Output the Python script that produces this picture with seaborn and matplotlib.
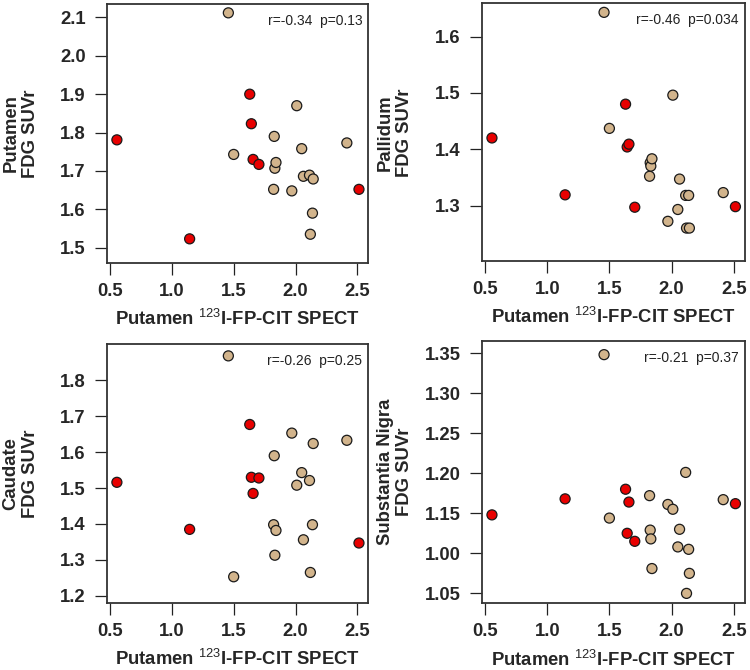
"""
FDG SUVr vs putamen 123I-FP-CIT SPECT, four regions (2x2 scatter panels).
"""
import numpy as np
import pandas as pd
import matplotlib
matplotlib.use("Agg")
import matplotlib.pyplot as plt
import seaborn as sns

sns.set_style("white")
plt.rcParams.update({
    'font.family': ['Liberation Sans', 'DejaVu Sans'],
    'font.size': 13.3,
    'mathtext.fontset': 'custom',
    'mathtext.rm': 'Liberation Sans',
    'mathtext.default': 'rm',
})

# ── Data ──
# red group
X_RED = [0.556, 1.144, 1.630, 1.643, 1.657, 1.704, 2.513]
# tan group
X_TAN = [1.457, 1.500, 1.823, 1.828, 1.833, 1.842, 1.970, 2.010,
         2.050, 2.064, 2.113, 2.120, 2.137, 2.143, 2.415]

PUT_RED = [1.781, 1.523, 1.900, 1.823, 1.730, 1.717, 1.652]
PUT_TAN = [2.112, 1.743, 1.652, 1.790, 1.707, 1.722, 1.648, 1.870,
           1.758, 1.686, 1.689, 1.535, 1.590, 1.679, 1.773]

PAL_RED = [1.420, 1.319, 1.480, 1.404, 1.409, 1.297, 1.298]
PAL_TAN = [1.643, 1.437, 1.352, 1.376, 1.370, 1.383, 1.272, 1.496,
           1.293, 1.347, 1.318, 1.260, 1.318, 1.260, 1.323]

CAU_RED = [1.516, 1.385, 1.677, 1.530, 1.485, 1.528, 1.347]
CAU_TAN = [1.868, 1.253, 1.398, 1.590, 1.313, 1.382, 1.653, 1.508,
           1.543, 1.356, 1.521, 1.265, 1.398, 1.624, 1.633]

SN_RED = [1.148, 1.168, 1.180, 1.125, 1.164, 1.115, 1.162]
SN_TAN = [1.348, 1.144, 1.172, 1.129, 1.118, 1.081, 1.161, 1.155,
          1.108, 1.130, 1.201, 1.050, 1.105, 1.075, 1.167]

REGIONS = ['Putamen', 'Pallidum', 'Caudate', 'Substantia Nigra']
STATS = ['r=-0.34  p=0.13', 'r=-0.46  p=0.034', 'r=-0.26  p=0.25', 'r=-0.21  p=0.37']
Y_RED = [PUT_RED, PAL_RED, CAU_RED, SN_RED]
Y_TAN = [PUT_TAN, PAL_TAN, CAU_TAN, SN_TAN]

Y_TICKS = [
    [1.5, 1.6, 1.7, 1.8, 1.9, 2.0, 2.1],
    [1.3, 1.4, 1.5, 1.6],
    [1.2, 1.3, 1.4, 1.5, 1.6, 1.7, 1.8],
    [1.05, 1.10, 1.15, 1.20, 1.25, 1.30, 1.35],
]
# the SN axis carries the labels as printed in the original
Y_TICKLABELS = [
    ['1.5', '1.6', '1.7', '1.8', '1.9', '2.0', '2.1'],
    ['1.3', '1.4', '1.5', '1.6'],
    ['1.2', '1.3', '1.4', '1.5', '1.6', '1.7', '1.8'],
    ['1.05', '1.00', '1.15', '1.20', '1.25', '1.30', '1.35'],
]
Y_LIMS = [(1.461, 2.135), (1.201, 1.659), (1.180, 1.900), (1.038, 1.365)]
X_TICKS = [0.5, 1.0, 1.5, 2.0, 2.5]

COLORS = {'red': '#E80000', 'tan': '#D2B48C'}

# axes rectangles (fig fraction)
RECTS = [
    [0.143, 0.608, 0.348, 0.386],
    [0.643, 0.610, 0.350, 0.385],
    [0.143, 0.100, 0.348, 0.386],
    [0.643, 0.100, 0.350, 0.391],
]

fig = plt.figure(figsize=(7.5, 6.7), dpi=100)

for i in range(4):
    ax = fig.add_axes(RECTS[i])
    df = pd.DataFrame({
        'x': X_TAN + X_RED,
        'y': Y_TAN[i] + Y_RED[i],
        'group': ['tan'] * len(X_TAN) + ['red'] * len(X_RED),
    })
    sns.scatterplot(data=df, x='x', y='y', hue='group', palette=COLORS,
                    s=52, edgecolor='#1a1a1a', linewidth=0.9, alpha=1,
                    legend=False, ax=ax, zorder=3)

    ax.set_xlim(0.478, 2.588)
    ax.set_ylim(*Y_LIMS[i])
    ax.set_xticks(X_TICKS)
    ax.set_xticklabels(['0.5', '1.0', '1.5', '2.0', '2.5'], fontweight='bold')
    ax.set_yticks(Y_TICKS[i])
    ax.set_yticklabels(Y_TICKLABELS[i], fontweight='bold')
    ax.tick_params(axis='both', direction='out', length=8.5, width=0.9,
                   color='#222', labelsize=13.3, pad=6,
                   bottom=True, left=True, top=False, right=False)
    ax.tick_params(axis='y', pad=7)

    for sp in ax.spines.values():
        sp.set_visible(True)
        sp.set_linewidth(1.3)
        sp.set_color('#333')

    ax.set_xlabel(r'Putamen $^{123}$I-FP-CIT SPECT', fontweight='bold',
                  fontsize=13.3)
    ax.xaxis.set_label_coords(0.5, -0.178)
    ax.set_ylabel(f'{REGIONS[i]}\nFDG SUVr', fontweight='bold', fontsize=13.3,
                  linespacing=1.2)
    ax.yaxis.set_label_coords(-0.262, 0.5)

    ax.text(0.977, 0.934, STATS[i], transform=ax.transAxes, ha='right',
            va='center', fontsize=10, color='#222')

fig.savefig('out.png', dpi=100, facecolor='white')
plt.close(fig)
